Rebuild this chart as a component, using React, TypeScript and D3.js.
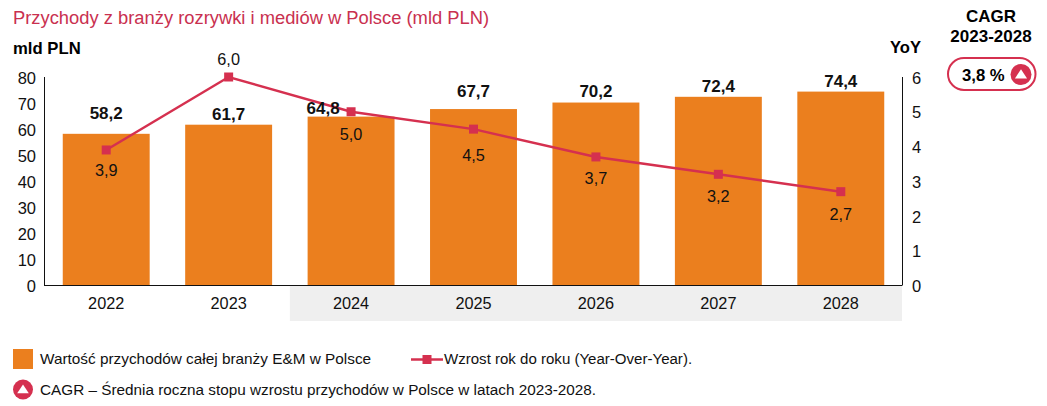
import React from "react";
import * as d3 from "d3";

const years = ["2022", "2023", "2024", "2025", "2026", "2027", "2028"];
const revenue = [58.2, 61.7, 64.8, 67.7, 70.2, 72.4, 74.4];
const yoy = [3.9, 6.0, 5.0, 4.5, 3.7, 3.2, 2.7];
const forecastYears = ["2024", "2025", "2026", "2027", "2028"];
const leftTicks = [0, 10, 20, 30, 40, 50, 60, 70, 80];
const rightTicks = [0, 1, 2, 3, 4, 5, 6];

const ORANGE = "#eb7f1e";
const RED = "#d5304f";
const TITLE_RED = "#c9304f";
const FONT = "'Liberation Sans', Arial, sans-serif";

const fmt = (v: number) => v.toFixed(1).replace(".", ",");

const margin = { left: 45, right: 902, top: 77, bottom: 285.5 };

// labels sit at uneven distances in the original, so they are nudged by hand
const barLabelDy = [-15, -5, -3, -12, -6, -5, -5];
const barLabelDx = [0, 0, -28, 0, 0, 0, 0];
const yoyLabelDy = [26, -12, 28, 32, 27, 28, 28];

const Triangle = ({ cx, cy, r }: { cx: number; cy: number; r: number }) => (
  <g>
    <circle cx={cx} cy={cy} r={r} fill={RED} />
    <path
      d={`M${cx},${cy - r * 0.5}L${cx + r * 0.58},${cy + r * 0.38}L${cx - r * 0.58},${cy + r * 0.38}Z`}
      fill="#fff"
    />
  </g>
);

export default function App() {
  const x = d3.scaleBand<string>().domain(years).range([margin.left, margin.right]).paddingInner(0.29).paddingOuter(0.145);
  const yLeft = d3.scaleLinear().domain([0, 80]).range([margin.bottom, margin.top]);
  const yRight = d3.scaleLinear().domain([0, 6]).range([margin.bottom, margin.top]);
  const cx = (d: string) => x(d)! + x.bandwidth() / 2;
  const line = d3
    .line<number>()
    .x((_, i) => cx(years[i]))
    .y((d) => yRight(d));

  const step = x.step();
  const bandStart = cx(forecastYears[0]) - step / 2;

  return (
    <svg
      width={1047}
      height={406}
      style={{ position: "absolute", left: 0, top: 0, fontFamily: FONT }}
    >
      <text x={13} y={24} fontSize={18.35} fill={TITLE_RED}>
        Przychody z branży rozrywki i mediów w Polsce (mld PLN)
      </text>
      <text x={13} y={54} fontSize={16.7} fontWeight="bold">mld PLN</text>
      <text x={921} y={53} fontSize={16.6} fontWeight="bold" textAnchor="end">YoY</text>

      <text x={991} y={22} fontSize={17} fontWeight="bold" textAnchor="middle">CAGR</text>
      <text x={991} y={42} fontSize={17} fontWeight="bold" textAnchor="middle">2023-2028</text>
      <rect x={948} y={58} width={87.5} height={32} rx={16} fill="#fff" stroke={RED} strokeWidth={2} />
      <text x={962} y={81} fontSize={16.7} fontWeight="bold">3,8 %</text>
      <Triangle cx={1021} cy={74.5} r={10.5} />

      <rect x={bandStart} y={margin.bottom} width={margin.right - bandStart} height={35.5} fill="#efefef" />

      {years.map((d, i) => (
        <rect
          key={d}
          x={x(d)}
          y={yLeft(revenue[i])}
          width={x.bandwidth()}
          height={margin.bottom - yLeft(revenue[i])}
          fill={ORANGE}
        />
      ))}

      <line x1={margin.left - 1} x2={margin.right} y1={margin.bottom} y2={margin.bottom} stroke="#111" strokeWidth={1} />
      <line x1={margin.left - 0.5} x2={margin.left - 0.5} y1={margin.top} y2={margin.bottom} stroke="#111" />
      <line x1={margin.right + 0.5} x2={margin.right + 0.5} y1={margin.top} y2={margin.bottom} stroke="#111" />

      {leftTicks.map((t) => (
        <text key={t} x={36} y={yLeft(t) + 6.5} fontSize={16.5} textAnchor="end" fill="#111">{t}</text>
      ))}
      {rightTicks.map((t) => (
        <text key={t} x={912} y={yRight(t) + 6.5} fontSize={16.5} fill="#111">{t}</text>
      ))}
      {years.map((d) => (
        <text key={d} x={cx(d)} y={309} fontSize={16.3} textAnchor="middle" fill="#111">{d}</text>
      ))}

      <path d={line(yoy) ?? ""} fill="none" stroke={RED} strokeWidth={2.5} />
      {yoy.map((v, i) => (
        <rect key={years[i]} x={cx(years[i]) - 4.5} y={yRight(v) - 4.5} width={9} height={9} fill={RED} />
      ))}

      {revenue.map((v, i) => (
        <text
          key={years[i]}
          x={cx(years[i]) + barLabelDx[i]}
          y={yLeft(v) + barLabelDy[i]}
          fontSize={17}
          fontWeight="bold"
          textAnchor="middle"
          fill="#111"
        >
          {fmt(v)}
        </text>
      ))}
      {yoy.map((v, i) => (
        <text
          key={years[i]}
          x={cx(years[i])}
          y={yRight(v) + yoyLabelDy[i]}
          fontSize={16.3}
          textAnchor="middle"
          fill="#111"
        >
          {fmt(v)}
        </text>
      ))}

      <rect x={13} y={349} width={20} height={20} fill={ORANGE} />
      <text x={40} y={364} fontSize={15.35} fill="#111">Wartość przychodów całej branży E&amp;M w Polsce</text>
      <line x1={411} x2={443} y1={359.5} y2={359.5} stroke={RED} strokeWidth={2.5} />
      <rect x={422.5} y={355} width={9} height={9} fill={RED} />
      <text x={444} y={364} fontSize={15.05} fill="#111">Wzrost rok do roku (Year-Over-Year).</text>
      <Triangle cx={23} cy={389.5} r={10} />
      <text x={40} y={394.5} fontSize={15.3} fill="#111">CAGR – Średnia roczna stopu wzrostu przychodów w Polsce w latach 2023-2028.</text>
    </svg>
  );
}
